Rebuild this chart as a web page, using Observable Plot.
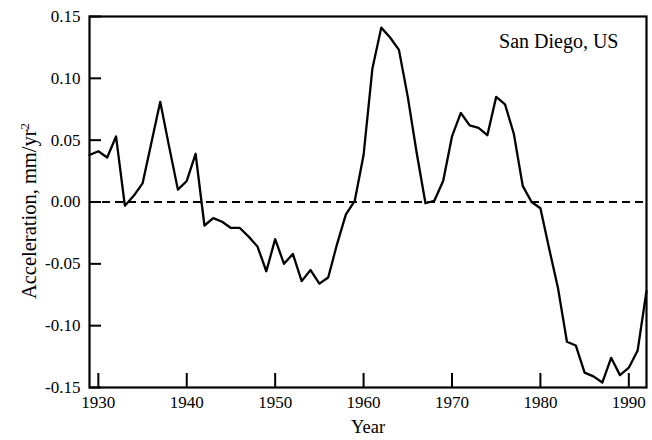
<!DOCTYPE html>
<html>
<head>
<meta charset="utf-8">
<script src="https://cdn.jsdelivr.net/npm/d3@7"></script>
<script src="https://cdn.jsdelivr.net/npm/@observablehq/plot@0.6"></script>
<style>
  html, body { margin: 0; padding: 0; background: #fff; }
  svg { display: block; }
</style>
</head>
<body>
<div id="chart"></div>
<script>
const years = [1929,1930,1931,1932,1933,1934,1935,1936,1937,1938,1939,1940,1941,1942,1943,1944,1945,1946,1947,1948,1949,
  1950,1951,1952,1953,1954,1955,1956,1957,1958,1959,1960,1961,1962,1963,1964,1965,1966,1967,1968,1969,
  1970,1971,1972,1973,1974,1975,1976,1977,1978,1979,1980,1981,1982,1983,1984,1985,1986,1987,1988,1989,
  1990,1991,1992];
const acceleration = [0.038,0.041,0.036,0.053,-0.003,0.005,0.015,0.048,0.081,0.045,0.010,0.017,0.039,-0.019,-0.013,-0.016,-0.021,-0.021,-0.028,-0.036,-0.056,
  -0.030,-0.050,-0.042,-0.064,-0.055,-0.066,-0.061,-0.034,-0.010,0.001,0.038,0.108,0.141,0.133,0.123,0.085,0.040,-0.001,0.001,0.017,
  0.053,0.072,0.062,0.060,0.054,0.085,0.079,0.055,0.013,0.000,-0.005,-0.038,-0.070,-0.113,-0.116,-0.138,-0.141,-0.146,-0.126,-0.140,
  -0.134,-0.120,-0.072];
const xTicks = [1930,1940,1950,1960,1970,1980,1990];
const yTicks = [-0.15,-0.10,-0.05,0.00,0.05,0.10,0.15];
const xDomain = [1929, 1992];
const yDomain = [-0.15, 0.15];
const stationLabel = "San Diego, US";
const xLabel = "Year";
const yLabelBase = "Acceleration, mm/yr";
const yLabelSup = "2";

const data = years.map((y, i) => ({year: y, value: acceleration[i]}));

const chart = Plot.plot({
  width: 652,
  height: 440,
  marginLeft: 89,
  marginRight: 6,
  marginTop: 16,
  marginBottom: 53,
  style: {fontFamily: "'Liberation Serif', 'Times New Roman', serif", fontSize: "17px", color: "#000", background: "#fff"},
  x: {domain: xDomain},
  y: {domain: yDomain},
  marks: [
    Plot.ruleY([0], {stroke: "#000", strokeWidth: 2, strokeDasharray: "8,5"}),
    Plot.line(data, {x: "year", y: "value", stroke: "#000", strokeWidth: 2.3}),
    Plot.axisY(yTicks, {anchor: "left", tickSize: -12, tickPadding: 21, strokeWidth: 2, tickFormat: d => d.toFixed(2), label: null, fontSize: 17}),
    Plot.axisX(xTicks, {anchor: "bottom", tickSize: -14, tickPadding: 22, strokeWidth: 2, tickFormat: d => String(d), label: null, fontSize: 17}),
    Plot.frame({stroke: "#000", strokeWidth: 2.2}),
    Plot.text([stationLabel], {frameAnchor: "top-right", dx: -28, dy: 17, text: d => d, fontSize: 20, textAnchor: "end"}),
    Plot.text([xLabel], {frameAnchor: "bottom", dy: 45, text: d => d, fontSize: 18.5}),
    Plot.text([yLabelBase], {frameAnchor: "left", dx: -60, dy: 9, text: d => d, rotate: -90, fontSize: 20.5, textAnchor: "middle"})
  ]
});
document.getElementById("chart").appendChild(chart);

// add superscript to y-axis label
d3.select(chart).selectAll("text").filter(function() { return this.textContent === yLabelBase; })
  .each(function() {
    d3.select(this).append("tspan").attr("dy", "-0.55em").attr("font-size", "13px").text(yLabelSup);
  });
</script>
</body>
</html>
